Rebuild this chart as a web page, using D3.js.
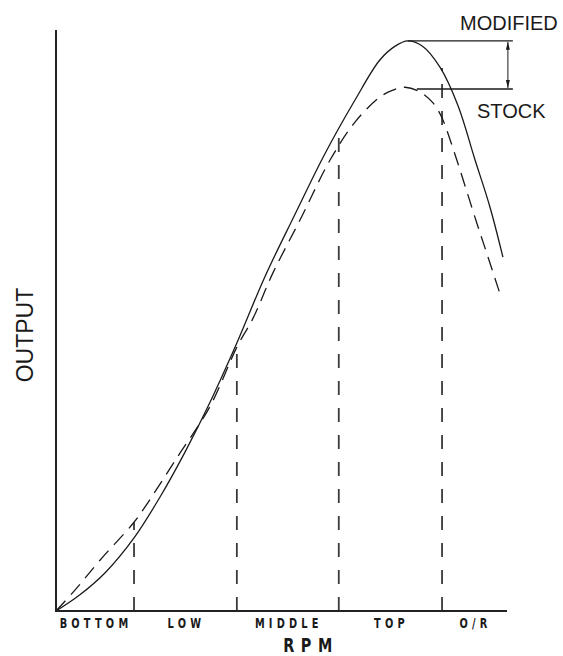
<!DOCTYPE html>
<html>
<head>
<meta charset="utf-8">
<script src="https://cdn.jsdelivr.net/npm/d3@7"></script>
<style>
  html, body { margin: 0; padding: 0; background: #fff; }
  svg { display: block; }
  .band { font-family: "DejaVu Sans", sans-serif; font-weight: bold; }
  .big { font-family: "Liberation Sans", Arial, sans-serif; }
</style>
</head>
<body>
<svg id="chart" width="563" height="656"></svg>
<script>
// rpm position (% of axis) and output (% of axis height)
const modifiedRpm = [0, 5.3, 10.9, 17.3, 23.1, 28.6, 34.1, 40.1, 46.3, 53.0, 59.6, 66.3, 71.8, 75.2, 78.0, 81.2, 85.1, 89.1, 92.9, 96.2, 99.1];
const modifiedOut = [0, 2.8, 6.6, 12.6, 19.7, 27.4, 35.9, 46.2, 57.6, 68.4, 78.8, 88.1, 95.0, 97.4, 98.3, 97.4, 93.8, 87.2, 77.8, 69.7, 61.0];

const stockRpm = [0, 4.2, 9.8, 17.3, 19.7, 26.8, 34.1, 40.1, 43.7, 48.1, 54.1, 60.8, 66.3, 71.8, 74.7, 77.4, 80.7, 83.6, 85.6, 87.4, 89.6, 93.3, 95.8, 98.4];
const stockOut = [0, 3.6, 8.8, 15.3, 17.9, 26.4, 35.2, 45.5, 50.5, 58.3, 67.4, 77.8, 84.3, 88.6, 89.8, 90.3, 89.5, 87.6, 85.0, 81.2, 76.0, 66.9, 61.0, 54.8];

const bandEdges = [0, 17.3, 40.1, 62.7, 85.6, 100];
const bandLabels = ['BOTTOM', 'LOW', 'MIDDLE', 'TOP', 'O/R'];
const bandTops = [15.3, 46.2, 83.6, 93.6]; // where each divider meets the upper curve

const modifiedPeak = { rpm: 78.0, out: 98.3 };
const stockPeak = { rpm: 80.0, out: 90.0 };
const annotRpm = 101.3;
const arrowRpm = 100.2;

const svg = d3.select('#chart');
const x = d3.scaleLinear().domain([0, 100]).range([56, 507]);
const y = d3.scaleLinear().domain([0, 100]).range([611, 31]);

const line = d3.line()
  .x((d) => x(d[0]))
  .y((d) => y(d[1]))
  .curve(d3.curveCatmullRom.alpha(0.5));

// band dividers
svg.append('g')
  .selectAll('line')
  .data(bandTops)
  .join('line')
  .attr('x1', (d, i) => x(bandEdges[i + 1]))
  .attr('x2', (d, i) => x(bandEdges[i + 1]))
  .attr('y1', y(0))
  .attr('y2', (d) => y(d))
  .attr('stroke', '#3a3a3a')
  .attr('stroke-width', 1.8)
  .attr('stroke-dasharray', '14,13');

// curves
svg.append('path')
  .datum(d3.zip(stockRpm, stockOut))
  .attr('d', line)
  .attr('fill', 'none')
  .attr('stroke', '#1a1a1a')
  .attr('stroke-width', 1.3)
  .attr('stroke-dasharray', '14,8');

svg.append('path')
  .datum(d3.zip(modifiedRpm, modifiedOut))
  .attr('d', line)
  .attr('fill', 'none')
  .attr('stroke', '#1a1a1a')
  .attr('stroke-width', 1.3);

// axes
svg.append('line')
  .attr('x1', x(0)).attr('x2', x(0))
  .attr('y1', y(0)).attr('y2', y(100) - 1)
  .attr('stroke', '#222').attr('stroke-width', 2);
svg.append('line')
  .attr('x1', x(0) - 1).attr('x2', x(100))
  .attr('y1', y(0)).attr('y2', y(0))
  .attr('stroke', '#222').attr('stroke-width', 2);

// peak annotation
svg.append('defs').append('marker')
  .attr('id', 'arr')
  .attr('viewBox', '-8 -3 8 6')
  .attr('refX', 0).attr('refY', 0)
  .attr('markerWidth', 8).attr('markerHeight', 6)
  .attr('markerUnits', 'userSpaceOnUse')
  .attr('orient', 'auto-start-reverse')
  .append('path')
  .attr('d', 'M0,0L-8,-2L-8,2Z')
  .attr('fill', '#1a1a1a');

svg.append('line')
  .attr('x1', x(modifiedPeak.rpm)).attr('x2', x(annotRpm))
  .attr('y1', y(modifiedPeak.out)).attr('y2', y(modifiedPeak.out))
  .attr('stroke', '#1a1a1a').attr('stroke-width', 1.3);
svg.append('line')
  .attr('x1', x(stockPeak.rpm)).attr('x2', x(annotRpm))
  .attr('y1', y(stockPeak.out)).attr('y2', y(stockPeak.out))
  .attr('stroke', '#1a1a1a').attr('stroke-width', 1.3);
svg.append('line')
  .attr('x1', x(arrowRpm)).attr('x2', x(arrowRpm))
  .attr('y1', y(modifiedPeak.out) + 1).attr('y2', y(stockPeak.out) - 1)
  .attr('stroke', '#1a1a1a').attr('stroke-width', 1)
  .attr('marker-start', 'url(#arr)')
  .attr('marker-end', 'url(#arr)');

svg.append('text').attr('class', 'big')
  .attr('x', 460).attr('y', 30)
  .attr('font-size', 20).attr('fill', '#1a1a1a')
  .text('MODIFIED');
svg.append('text').attr('class', 'big')
  .attr('x', 477).attr('y', 118)
  .attr('font-size', 20).attr('fill', '#1a1a1a')
  .text('STOCK');

// band labels, narrow lettering
svg.append('g')
  .selectAll('text')
  .data(bandLabels)
  .join('text')
  .attr('class', 'band')
  .attr('transform', (d, i) => `translate(${x((bandEdges[i] + bandEdges[i + 1]) / 2) + 1},628) scale(0.7,1)`)
  .attr('text-anchor', 'middle')
  .attr('font-size', 14)
  .attr('letter-spacing', 6)
  .attr('fill', '#1a1a1a')
  .text((d) => d);

svg.append('text').attr('class', 'band')
  .attr('transform', 'translate(311,652) scale(0.72,1)')
  .attr('text-anchor', 'middle')
  .attr('font-size', 20)
  .attr('letter-spacing', 9)
  .attr('fill', '#1a1a1a')
  .text('RPM');

svg.append('text').attr('class', 'big')
  .attr('transform', 'translate(33,335) rotate(-90)')
  .attr('text-anchor', 'middle')
  .attr('font-size', 23)
  .attr('fill', '#1a1a1a')
  .text('OUTPUT');
</script>
</body>
</html>
